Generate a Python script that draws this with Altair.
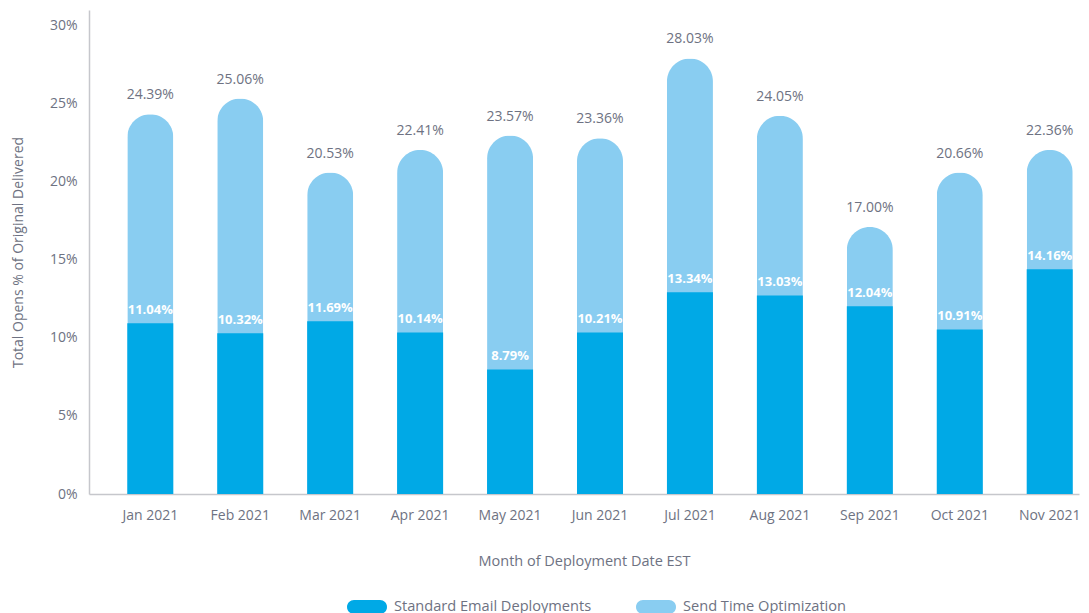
import altair as alt
import pandas as pd

months = ["Jan 2021", "Feb 2021", "Mar 2021", "Apr 2021", "May 2021", "Jun 2021",
          "Jul 2021", "Aug 2021", "Sep 2021", "Oct 2021", "Nov 2021"]
# bar heights (% of original delivered)
sto_values = [24.33, 25.33, 20.59, 22.04, 22.96, 22.79, 27.90, 24.22, 17.10, 20.59, 22.04]
std_values = [10.93, 10.29, 11.06, 10.35, 7.98, 10.35, 12.92, 12.72, 12.02, 10.54, 14.39]
# value labels printed on the chart
sto_labels = ["24.39%", "25.06%", "20.53%", "22.41%", "23.57%", "23.36%",
              "28.03%", "24.05%", "17.00%", "20.66%", "22.36%"]
std_labels = ["11.04%", "10.32%", "11.69%", "10.14%", "8.79%", "10.21%",
              "13.34%", "13.03%", "12.04%", "10.91%", "14.16%"]
series = ["Standard Email Deployments", "Send Time Optimization"]
colors = ["#00a9e6", "#89cdf1"]
y_ticks = [0, 5, 10, 15, 20, 25, 30]

rows = []
for m, v, l in zip(months, std_values, std_labels):
    rows.append({"month": m, "series": series[0], "value": v, "label": l})
for m, v, l in zip(months, sto_values, sto_labels):
    rows.append({"month": m, "series": series[1], "value": v, "label": l})
df = pd.DataFrame(rows)

FONT = "Open Sans"
GRAY = "#6e7282"
AXIS_LINE = "#c6c7cc"

x = alt.X("month:N", sort=months,
          scale=alt.Scale(paddingInner=0.4885, paddingOuter=0.2478, align=0.859),
          axis=alt.Axis(title="Month of Deployment Date EST", labelAngle=0, ticks=False,
                        labelPadding=14, titlePadding=32, domainColor=AXIS_LINE,
                        domainWidth=1.5, labelFontSize=14, titleFontSize=14.5,
                        labelColor=GRAY, titleColor=GRAY, titleFontWeight="normal",
                        labelFont=FONT, titleFont=FONT))
y = alt.Y("value:Q",
          scale=alt.Scale(domain=[0, 31], nice=False),
          axis=alt.Axis(title="Total Opens % of Original Delivered", values=y_ticks,
                        labelExpr="datum.value + '%'", grid=False, ticks=False,
                        labelPadding=12, titlePadding=24, domainColor=AXIS_LINE,
                        domainWidth=1.5, labelFontSize=14, titleFontSize=14,
                        labelColor=GRAY, titleColor=GRAY, titleFontWeight="normal",
                        labelFont=FONT, titleFont=FONT))
pill = ("M -0.65,-0.35 L 0.65,-0.35 A 0.35,0.35 0 0 1 0.65,0.35 "
        "L -0.65,0.35 A 0.35,0.35 0 0 1 -0.65,-0.35 Z")
color = alt.Color("series:N", sort=series,
                  scale=alt.Scale(domain=series, range=colors),
                  legend=alt.Legend(title=None, orient="none", direction="horizontal",
                                    legendX=258, legendY=577, symbolType=pill,
                                    symbolSize=1600, symbolStrokeWidth=0,
                                    symbolOpacity=1, labelFontSize=14.6, labelColor=GRAY,
                                    labelFont=FONT, labelOffset=7, columnPadding=44,
                                    labelLimit=400, padding=0))

base = alt.Chart(df).encode(x=x)

sto_bar = base.transform_filter(alt.datum.series == series[1]).mark_bar(
    cornerRadiusTopLeft=23, cornerRadiusTopRight=23
).encode(y=y, color=color)
std_bar = base.transform_filter(alt.datum.series == series[0]).mark_bar().encode(
    y=y, color=color)
sto_text = base.transform_filter(alt.datum.series == series[1]).mark_text(
    baseline="alphabetic", dy=-15, fontSize=14, font=FONT, color=GRAY
).encode(y="value:Q", text="label:N")
std_text = base.transform_filter(alt.datum.series == series[0]).mark_text(
    baseline="alphabetic", dy=-9, fontSize=13, fontWeight="bold", font=FONT, color="white"
).encode(y="value:Q", text="label:N")

chart = alt.layer(sto_bar, std_bar, sto_text, std_text).properties(
    width=990, height=484,
    padding={"left": 3, "top": 2, "right": 0, "bottom": 0}
).configure(font=FONT).configure_view(stroke="transparent", strokeWidth=0)

chart.save("out.html", embed_options={"renderer": "svg", "actions": False})
